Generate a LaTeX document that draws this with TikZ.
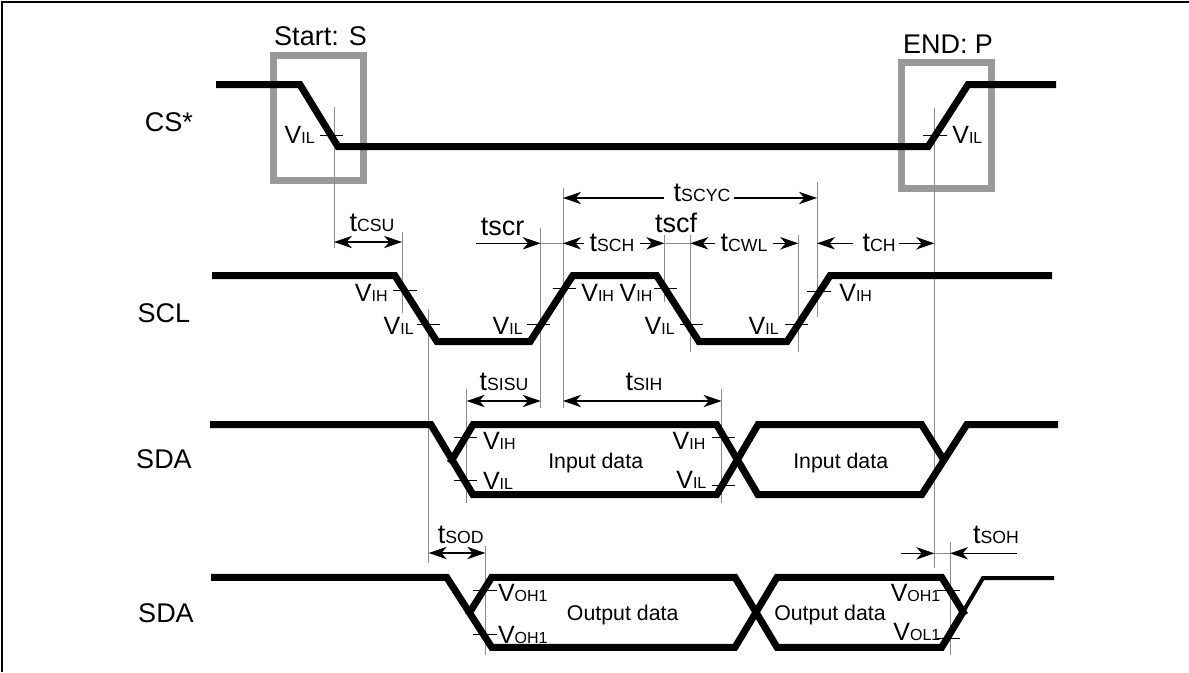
\documentclass[tikz,border=0pt]{standalone}
\usepackage{fontspec}
\setmainfont{Liberation Sans}
\usetikzlibrary{arrows.meta}

\newcommand{\Vlab}[1]{{\fontsize{15}{15}\selectfont V}{\fontsize{9.6}{10}\selectfont #1}}
\newcommand{\Tlab}[1]{{\fontsize{16.2}{16}\selectfont t}{\fontsize{10.6}{11}\selectfont #1}}

\tikzset{
	wave/.style={line width=4.2pt, line join=miter},
	thinwave/.style={line width=2.4pt, line join=miter},
	guide/.style={line width=.55pt, black!45},
	levtick/.style={line width=.55pt, black},
	markbox/.style={line width=4.2pt, black!40},
	dimline/.style={line width=.65pt, black},
	dimgap/.style={line width=.55pt, black!45},
	dimtip/.tip={Stealth[length=10.8pt, width=7.4pt, inset=3.2pt]},
	biglab/.style={font=\fontsize{16.2}{16}\selectfont, inner sep=0pt, anchor=base},
	datalab/.style={font=\fontsize{12.8}{13}\selectfont, inner sep=0pt, anchor=base},
	timelab/.style={inner sep=3pt, anchor=base},
}

\begin{document}
\begin{tikzpicture}[x=0.6pt, y=-0.6pt]
	\useasboundingbox (0,0) rectangle (1189,672);
	
	% -------- Frame: top and left edge only --------
	\draw[line width=1.2pt] (2.3,672) -- (2.3,2) -- (1189,2);
	
	% -------- Start / end boxes --------
	\draw[markbox] (273,55) rectangle (363,180);
	\draw[markbox] (901,62) rectangle (991,188);
	\node[biglab] (startlab) at (320.5,45) {Start: S};
	\node[biglab] (endlab) at (948,53) {END: P};
	
	% -------- Guide lines --------
	\foreach \gname/\gx/\gya/\gyb in {
		gA/334/107/248, gB/402/232/313, gC/428.7/309/563, gD/466.7/389/503,
		gE/540.7/228/408, gF/563/188/408, gG/664.3/235/302, gH/690.3/235/352,
		gI/798.3/235/352, gJ/817/182/317, gK/934.3/108/568, gL/721.5/389/503,
		gM/485.3/546/655, gN/950/542/655}{
		\coordinate (\gname) at (\gx,\gya);
		\draw[guide] (\gname) -- (\gx,\gyb);
	}
	
	% -------- Level ticks: x from / x to / y --------
	\foreach \xa/\xb/\yy in {
		320/343/135.7, 923/947/135.7,
		393/416.7/290, 417/440/324, 527/550/324, 552.7/576/288,
		654/676.7/288, 680/702.7/324, 785/807.7/324, 807/830.7/291,
		454/477/437.3, 454/477/480.7, 711.7/735/437.3, 711.7/735/485.7,
		473/496.7/590, 473/496.7/634, 937/960/590, 937/960/638.3}{
		\draw[levtick] (\xa,\yy) -- (\xb,\yy);
	}
	
	% -------- Waveforms --------
	% CS*
	\draw[wave] (216,84.7) -- (300,84.7) -- (338,146.7) -- (928,146.7) -- (968,84.7) -- (1056,84.7);
	% SCL
	\draw[wave] (212,275.7) -- (395,275.7) -- (437,341.7) -- (530,341.7) -- (572.7,275.7)
		-- (656.7,275.7) -- (699,341.7) -- (787,341.7) -- (830,275.7) -- (1052,275.7);
	% SDA, input
	\draw[wave] (210,424.7) -- (431,424.7) -- (473,494.7) -- (716.7,494.7) -- (758,424.7) -- (921.7,424.7) -- (945,462);
	\draw[wave] (450,463) -- (473,424.7) -- (716.7,424.7) -- (758,494.7) -- (921.7,494.7) -- (966.7,424.7) -- (1058,424.7);
	% SDA, output
	\draw[wave] (211,577.3) -- (446.7,577.3) -- (491.7,647.3) -- (735,647.3) -- (777,577.3) -- (941.7,577.3) -- (965,615);
	\draw[wave] (468,615) -- (491.7,577.3) -- (735,577.3) -- (777,647.3) -- (941.7,647.3) -- (963,612);
	\draw[thinwave] (963,612) -- (983,578) -- (1054,578);
	
	% -------- Signal names --------
	\node[biglab] (cslab) at (169,131) {CS*};
	\node[biglab] (scllab) at (164,322.7) {SCL};
	\node[biglab] (sdainlab) at (164,468.7) {SDA};
	\node[biglab] (sdaoutlab) at (166,622) {SDA};
	
	% -------- Data labels --------
	\node[datalab] (inA) at (595.7,468) {Input data};
	\node[datalab] (inB) at (840.7,468) {Input data};
	\node[datalab] (outA) at (622.7,620) {Output data};
	\node[datalab] (outB) at (830,620) {Output data};
	
	% -------- Level labels: anchor / x / y / text --------
	\foreach \anc/\xx/\yy/\txt in {
		east/315/143/IL, west/952/143/IL,
		east/388/301/IH, east/414/334/IL, east/523/334/IL, west/581/301/IH,
		east/652.7/301/IH, east/675/334/IL, east/779/334/IL, west/839/301/IH,
		west/482.7/449/IH, west/482.7/489/IL, east/705.7/449/IH, east/706.7/488/IL,
		west/497.7/601.7/OH1, west/497.7/643.3/OH1, east/940.7/601.7/OH1, east/940.7/640/OL1}{
		\node[inner sep=0pt, anchor=base \anc] at (\xx,\yy) {\Vlab{\txt}};
	}
	
	% -------- Timing labels --------
	\node[timelab] (tCSU) at (372,231.7) {\Tlab{CSU}};
	\node[biglab] (tSCR) at (502.7,235) {tscr};
	\node[biglab] (tSCF) at (676,232.7) {tscf};
	\node[timelab] (tSCYC) at (702,201.7) {\Tlab{SCYC}};
	\node[timelab] (tSCH) at (612,251) {\Tlab{SCH}};
	\node[timelab] (tCWL) at (744,251) {\Tlab{CWL}};
	\node[timelab] (tCH) at (879,251) {\Tlab{CH}};
	\node[timelab] (tSISU) at (504,390.7) {\Tlab{SISU}};
	\node[timelab] (tSIH) at (644,390.7) {\Tlab{SIH}};
	\node[timelab] (tSOD) at (460.7,543) {\Tlab{SOD}};
	\node[timelab] (tSOH) at (996,543) {\Tlab{SOH}};
	
	% -------- Timing arrows --------
	\draw[dimline, dimtip-dimtip] (gA |- 0,242) -- (gB |- 0,242);
	\draw[dimline, dimtip-dimtip] (gD |- 0,401) -- (gE |- 0,401);
	\draw[dimline, dimtip-dimtip] (gF |- 0,401) -- (gL |- 0,401);
	\draw[dimline, dimtip-dimtip] (gC |- 0,553) -- (gM |- 0,553);
	% split by their labels
	\draw[dimline, -dimtip] (476,243.3) -- (gE |- 0,243.3);
	\draw[dimgap] (gE |- 0,243.3) -- (gF |- 0,243.3);
	\draw[dimline, -dimtip] (tSCH.west |- 0,243.3) -- (gF |- 0,243.3);
	\draw[dimline, -dimtip] (tSCH.east |- 0,243.3) -- (gG |- 0,243.3);
	\draw[dimgap] (gG |- 0,243.3) -- (gH |- 0,243.3);
	\draw[dimline, -dimtip] (tCWL.west |- 0,243.3) -- (gH |- 0,243.3);
	\draw[dimline, -dimtip] (tCWL.east |- 0,243.3) -- (gI |- 0,243.3);
	\draw[dimline, -dimtip] (853,243.3) -- (gJ |- 0,243.3);
	\draw[dimline, -dimtip] (899,243.3) -- (gK |- 0,243.3);
	\draw[dimline, -dimtip] (664,198) -- (gF |- 0,198);
	\draw[dimline, -dimtip] (734,198) -- (gJ |- 0,198);
	% arrows from outside
	\draw[dimline, -dimtip] (901,553.3) -- (gK |- 0,553.3);
	\draw[dimgap] (gK |- 0,553.3) -- (gN |- 0,553.3);
	\draw[dimline, -dimtip] (1016.7,553.3) -- (gN |- 0,553.3);
	
\end{tikzpicture}
\end{document}
